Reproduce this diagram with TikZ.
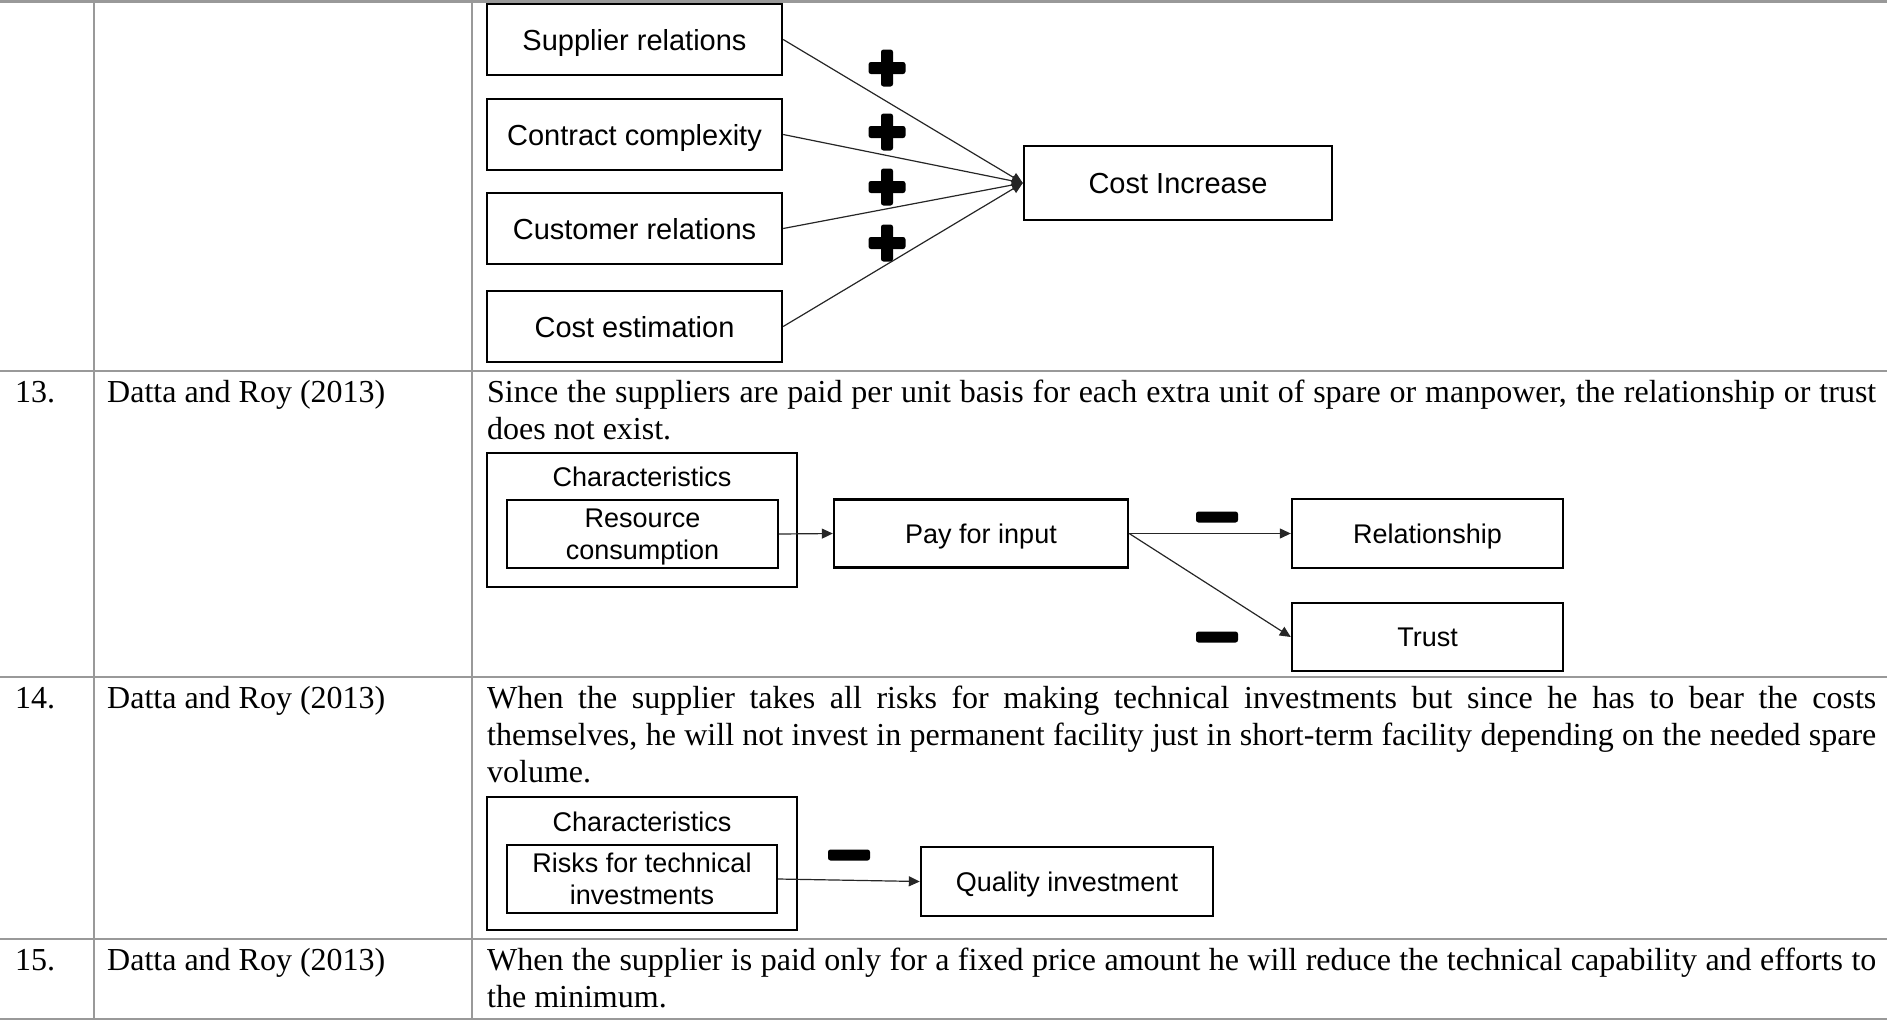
\documentclass[tikz,border=0pt]{standalone}
\usepackage{fontspec}
\setmainfont{Liberation Serif}
\newfontfamily\boxfont{Liberation Sans}
\usetikzlibrary{arrows.meta}
\definecolor{rulegray}{RGB}{153,153,153}
\begin{document}
\begin{tikzpicture}[x=1pt,y=-1pt,
  box/.style={draw=black, line width=2.4pt, inner sep=0pt, align=center, text depth=0pt,
    font=\boxfont\fontsize{27}{32}\selectfont},
  bigbox/.style={box, font=\boxfont\fontsize{29}{34}\selectfont},
  lbl/.style={inner sep=0pt, anchor=base, font=\boxfont\fontsize{27}{32}\selectfont},
  para/.style={inner sep=0pt, anchor=base west, font=\fontsize{32}{37}\selectfont},
  link/.style={line width=1.2pt, draw=black!85, -{Triangle[length=11pt,width=10pt]}},
  sign/.style={fill=black, rounded corners=2.5pt},
  tablerule/.style={draw=rulegray, line width=2.6pt}]

\useasboundingbox (0,0) rectangle (1887,1021);

% table rules
\foreach \yy in {1.5,371,677,939,1019}
  \draw[tablerule] (0,\yy) -- (1887,\yy);
\foreach \xx in {94,472}
  \draw[tablerule] (\xx,1.5) -- (\xx,1019);

% ---------- row 12: drivers of cost increase ----------
\node[bigbox, minimum width=295pt, minimum height=71pt] (sup) at (634.5,39.5) {Supplier relations};
\node[bigbox, minimum width=295pt, minimum height=71pt] (con) at (634.5,134.5) {Contract complexity};
\node[bigbox, minimum width=295pt, minimum height=71pt] (cus) at (634.5,228.5) {Customer relations};
\node[bigbox, minimum width=295pt, minimum height=71pt] (est) at (634.5,326.5) {Cost estimation};
\node[bigbox, minimum width=308pt, minimum height=74pt] (ci) at (1178,183) {Cost Increase};

\foreach \src in {sup,con,cus,est}
  \draw[link] (\src.east) -- (ci.west);

\foreach \yy in {68,132,187,243}{
  \fill[sign] ({887-18.5},{\yy-6}) rectangle ({887+18.5},{\yy+6});
  \fill[sign] ({887-6},{\yy-18.5}) rectangle ({887+6},{\yy+18.5});
}

% ---------- row 13 ----------
\node[para] (n13) at (15,402) {13.};
\node[para] (a13) at (107,402) {Datta and Roy (2013)};
\node[para] (t13a) at (487,402) {\makebox[1389pt][s]{Since the suppliers are paid per unit basis for each extra unit of spare or manpower, the relationship or trust}};
\node[para] (t13b) at (487,439) {does not exist.};

\node[box, minimum width=310pt, minimum height=134pt] (ch13) at (642,520) {};
\node[lbl] (ch13t) at (642,486) {Characteristics};
\node[box, minimum width=271pt, minimum height=68pt] (res) at (642.5,534) {Resource\\consumption};
\node[box, minimum width=294pt, minimum height=68pt] (pay) at (981,533.5) {Pay for input};
\node[box, minimum width=271pt, minimum height=69pt] (rel) at (1427.5,533.5) {Relationship};
\node[box, minimum width=271pt, minimum height=68pt] (trust) at (1427.5,637) {Trust};

\draw[link] (res.east) -- (pay.west);
\draw[link] (pay.east) -- (rel.west);
\draw[link] (pay.east) -- (trust.west);

\fill[sign] ({1217-21},{517-5.5}) rectangle ({1217+21},{517+5.5});
\fill[sign] ({1217-21},{637-5.5}) rectangle ({1217+21},{637+5.5});

% ---------- row 14 ----------
\node[para] (n14) at (15,708) {14.};
\node[para] (a14) at (107,708) {Datta and Roy (2013)};
\node[para] (t14a) at (487,708) {\makebox[1389pt][s]{When the supplier takes all risks for making technical investments but since he has to bear the costs}};
\node[para] (t14b) at (487,745) {\makebox[1389pt][s]{themselves, he will not invest in permanent facility just in short-term facility depending on the needed spare}};
\node[para] (t14c) at (487,782) {volume.};

\node[box, minimum width=310pt, minimum height=133pt] (ch14) at (642,863.5) {};
\node[lbl] (ch14t) at (642,831) {Characteristics};
\node[box, minimum width=270pt, minimum height=68pt] (risk) at (642,879) {Risks for technical\\investments};
\node[box, minimum width=292pt, minimum height=69pt] (qual) at (1067,881.5) {Quality investment};

\draw[link] (risk.east) -- (qual.west);

\fill[sign] ({849-21},{855-5.5}) rectangle ({849+21},{855+5.5});

% ---------- row 15 ----------
\node[para] (n15) at (15,970) {15.};
\node[para] (a15) at (107,970) {Datta and Roy (2013)};
\node[para] (t15a) at (487,970) {\makebox[1389pt][s]{When the supplier is paid only for a fixed price amount he will reduce the technical capability and efforts to}};
\node[para] (t15b) at (487,1007) {the minimum.};

\end{tikzpicture}
\end{document}
